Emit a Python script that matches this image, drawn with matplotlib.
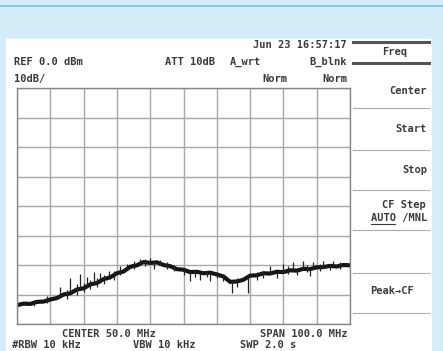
import numpy as np
import matplotlib
matplotlib.use("Agg")
import matplotlib.pyplot as plt

# trace (MHz, dBm)
freq = [0, 2, 4, 6, 8, 10, 12, 14, 16, 18, 20, 22, 24, 26, 28, 30, 32, 34, 36, 38,
        40, 42, 44, 46, 48, 50, 52, 54, 56, 58, 60, 62, 64, 66, 68, 70, 72, 74, 76, 78,
        80, 82, 84, 86, 88, 90, 92, 94, 96, 98, 100]
level = [-73.6, -73.1, -73.2, -72.5, -72.4, -71.7, -71.2, -70.0, -69.6, -68.3,
         -67.9, -66.6, -66.1, -64.8, -64.2, -62.8, -62.2, -60.6, -60.1, -59.0,
         -59.3, -59.1, -60.0, -60.4, -61.4, -61.6, -62.4, -62.3, -62.8, -62.6,
         -63.2, -63.9, -65.7, -65.6, -65.0, -63.6, -63.5, -62.8, -62.9, -62.3,
         -62.4, -61.8, -61.9, -61.3, -61.4, -60.8, -60.7, -60.3, -60.5, -60.0, -60.1]

# noise spikes: position, bottom, top
spike_f = [5, 9, 13, 15, 16, 18, 19, 20, 21, 22, 23, 24, 25, 26, 27.5, 29, 31, 33, 35,
           37, 38.5, 40, 41, 43, 45, 47, 50, 52, 53.5, 55, 57, 58, 60, 62, 64.5, 66,
           69.5, 72, 74, 76, 78, 80, 81.5, 83, 84, 86, 87, 88, 89, 91, 92, 94, 95, 97]
spike_lo = [-74.0, -73.0, -71.0, -71.5, -69.8, -70.0, -68.2, -69.0, -67.5, -68.0,
            -66.5, -67.5, -66.0, -66.5, -64.5, -65.0, -63.5, -61.5, -61.5,
            -60.0, -60.5, -59.5, -61.5, -60.0, -61.5, -62.0, -63.5, -65.5, -64.0,
            -65.0, -64.0, -65.5, -64.5, -65.5, -69.5, -67.5,
            -69.5, -65.0, -64.5, -63.0, -64.5, -62.5, -63.0, -62.0, -63.5, -61.5,
            -62.5, -63.8, -61.5, -62.0, -61.0, -61.8, -60.5, -61.5]
spike_hi = [-72.0, -70.5, -67.5, -68.5, -64.5, -66.5, -63.0, -66.0, -64.0, -65.0,
            -62.5, -64.5, -62.8, -63.5, -62.0, -62.0, -60.5, -59.5, -58.8,
            -58.0, -58.0, -57.5, -59.0, -58.3, -59.0, -60.0, -61.0, -62.0, -61.8,
            -62.3, -62.0, -62.5, -62.5, -63.0, -65.0, -64.5,
            -64.5, -62.5, -62.0, -60.5, -62.3, -59.5, -60.5, -59.0, -61.8, -58.8,
            -60.0, -61.3, -59.0, -59.5, -58.5, -59.8, -58.5, -59.0]

header = ["REF 0.0 dBm", "ATT 10dB", "A_wrt", "B_blnk"]
menu = ["Center", "Start", "Stop"]

W, H = 443, 351
fig = plt.figure(figsize=(W / 100, H / 100), dpi=100)
fig.patch.set_facecolor("#d5ecf9")

bg = fig.add_axes([0, 0, 1, 1])
bg.set_xlim(0, W)
bg.set_ylim(H, 0)
bg.axis("off")
bg.plot([0, W], [6, 6], color="#6cc6ec", lw=1.2)
bg.add_patch(plt.Rectangle((6, 39), 425, 320, color="white", zorder=0))

mono = dict(family="DejaVu Sans Mono", color="#3a3a3a", weight="bold")
bg.text(347, 45, "Jun 23 16:57:17", ha="right", va="center", fontsize=7.5, **mono)
bg.text(14, 62, header[0], ha="left", va="center", fontsize=7.5, **mono)
bg.text(165, 62, header[1], ha="left", va="center", fontsize=7.5, **mono)
bg.text(230, 62, header[2], ha="left", va="center", fontsize=7.5, **mono)
bg.text(347, 62, header[3], ha="right", va="center", fontsize=7.5, **mono)
bg.text(14, 79, "10dB/", ha="left", va="center", fontsize=7.5, **mono)
bg.text(287, 79, "Norm", ha="right", va="center", fontsize=7.5, **mono)
bg.text(347, 79, "Norm", ha="right", va="center", fontsize=7.5, **mono)

bg.text(19, 106, "CENTER", ha="left", va="center", fontsize=12, **mono)
bg.text(30, 129, "50.0 MHz", ha="left", va="center", fontsize=12, **mono)

bg.text(62, 334, "CENTER 50.0 MHz", ha="left", va="center", fontsize=7.5, **mono)
bg.text(348, 334, "SPAN 100.0 MHz", ha="right", va="center", fontsize=7.5, **mono)
bg.text(12, 345, "#RBW 10 kHz", ha="left", va="center", fontsize=7.5, **mono)
bg.text(133, 345, "VBW 10 kHz", ha="left", va="center", fontsize=7.5, **mono)
bg.text(240, 345, "SWP 2.0 s", ha="left", va="center", fontsize=7.5, **mono)

# soft key menu
for yy in [42, 63]:
    bg.plot([353, 429], [yy, yy], color="#555555", lw=2.2)
for yy in [108, 150, 190, 230, 273, 313]:
    bg.plot([353, 429], [yy, yy], color="#aaaaaa", lw=0.8)
bg.text(395, 52, "Freq", ha="center", va="center", fontsize=7.5, **mono)
bg.text(427, 91, menu[0], ha="right", va="center", fontsize=7.5, **mono)
bg.text(427, 129, menu[1], ha="right", va="center", fontsize=7.5, **mono)
bg.text(427, 170, menu[2], ha="right", va="center", fontsize=7.5, **mono)
bg.text(404, 205, "CF Step", ha="center", va="center", fontsize=7.5, **mono)
bg.text(427, 218, "AUTO /MNL", ha="right", va="center", fontsize=7.5, **mono)
bg.plot([371, 395], [224, 224], color="#3a3a3a", lw=0.8)
bg.text(392, 291, "Peak\u2192CF", ha="center", va="center", fontsize=7.5, **mono)

# the trace area
ax = fig.add_axes([17 / W, (H - 324) / H, 333 / W, 236 / H])
ax.set_xlim(0, 100)
ax.set_ylim(-80, 0)
ax.set_xticks(np.arange(0, 101, 10))
ax.set_yticks(np.arange(-80, 1, 10))
ax.grid(True, color="#a8a8a8", lw=1.0)
ax.tick_params(length=0, labelbottom=False, labelleft=False)
for s in ax.spines.values():
    s.set_color("#888888")
    s.set_linewidth(1.0)
ax.set_facecolor("white")

ax.plot(freq, level, color="#151515", lw=3.0, solid_joinstyle="round")
ax.vlines(spike_f, spike_lo, spike_hi, color="#222222", lw=0.9)

fig.savefig("out.png", dpi=100)
